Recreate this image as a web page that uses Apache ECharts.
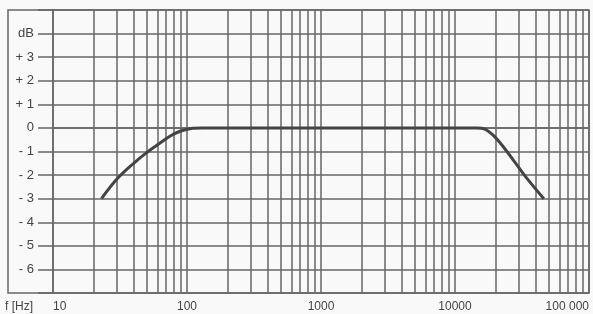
<!DOCTYPE html>
<html>
<head>
<meta charset="utf-8">
<script src="https://cdn.jsdelivr.net/npm/echarts@6/dist/echarts.min.js"></script>
<style>
  html, body { margin: 0; padding: 0; background: #f9f9f9; }
  #chart { width: 593px; height: 314px; }
</style>
</head>
<body>
<div id="chart"></div>
<script>
// frequency response
var freqs = [23, 30, 40, 50, 63, 75, 90, 107, 130, 1000, 10000, 14500, 16700, 19500, 23300, 28300, 34300, 46000];
var gains = [-3.0, -2.17, -1.5, -1.05, -0.64, -0.34, -0.13, -0.02, 0, 0, 0, 0, -0.05, -0.34, -0.85, -1.49, -2.13, -3.0];

// minor grid lines of the log paper (2..9 in each decade)
var minorFreqs = [];
[10, 100, 1000, 10000].forEach(function (d) {
  for (var k = 2; k <= 9; k++) minorFreqs.push(d * k);
});

var xLabels = { 10: '10', 100: '100', 1000: '1000', 10000: '10000', 100000: '100 000' };

var lineColor = '#666';
var lineWidth = 1.5;
var textColor = '#444';
var font = '"Liberation Sans", Arial, sans-serif';

var chart = echarts.init(document.getElementById('chart'), null, { renderer: 'canvas' });

chart.setOption({
  animation: false,
  backgroundColor: '#f9f9f9',
  title: {
    text: 'f [Hz]',
    left: 5,
    top: 301,
    padding: 0,
    textStyle: { color: textColor, fontFamily: font, fontSize: 12, fontWeight: 'normal' }
  },
  grid: [
    { left: 53, right: 4, top: 10, bottom: 21 },
    { left: 8, right: 4, top: 10, bottom: 21, show: true, borderColor: lineColor, borderWidth: lineWidth, backgroundColor: 'transparent' }
  ],
  xAxis: [{
    type: 'log',
    logBase: 10,
    min: 10,
    max: 100000,
    gridIndex: 0,
    axisLine: { show: true, lineStyle: { color: lineColor, width: lineWidth } },
    axisTick: { show: false },
    splitLine: { show: true, lineStyle: { color: lineColor, width: lineWidth } },
    axisLabel: {
      margin: 8,
      color: textColor,
      fontFamily: font,
      fontSize: 12,
      alignMinLabel: 'left',
      alignMaxLabel: 'right',
      formatter: function (v) { return xLabels[Math.round(v)] || ''; }
    }
  }, {
    gridIndex: 1, type: 'value', show: false
  }],
  yAxis: [{
    type: 'value',
    min: -7,
    max: 5,
    interval: 1,
    gridIndex: 0,
    axisLine: { show: true, lineStyle: { color: lineColor, width: lineWidth } },
    axisTick: { show: true, length: 15, lineStyle: { color: lineColor, width: lineWidth } },
    splitLine: { show: true, lineStyle: { color: lineColor, width: lineWidth } },
    axisLabel: {
      margin: 19,
      color: textColor,
      fontFamily: font,
      fontSize: 13,
      formatter: function (v) {
        if (v === 4) return 'dB';
        if (v >= 5 || v <= -7) return '';
        if (v > 0) return '+ ' + v;
        if (v < 0) return '- ' + (-v);
        return '0';
      }
    }
  }, {
    gridIndex: 1, type: 'value', show: false
  }],
  series: [{
    type: 'line',
    xAxisIndex: 0,
    yAxisIndex: 0,
    data: freqs.map(function (f, i) { return [f, gains[i]]; }),
    smooth: 0.35,
    showSymbol: false,
    lineStyle: { color: '#444', width: 3 },
    z: 5,
    markLine: {
      silent: true,
      symbol: ['none', 'none'],
      label: { show: false },
      lineStyle: { type: 'solid', color: lineColor, width: lineWidth },
      data: minorFreqs.map(function (f) { return { xAxis: f }; })
    }
  }]
});
</script>
</body>
</html>
